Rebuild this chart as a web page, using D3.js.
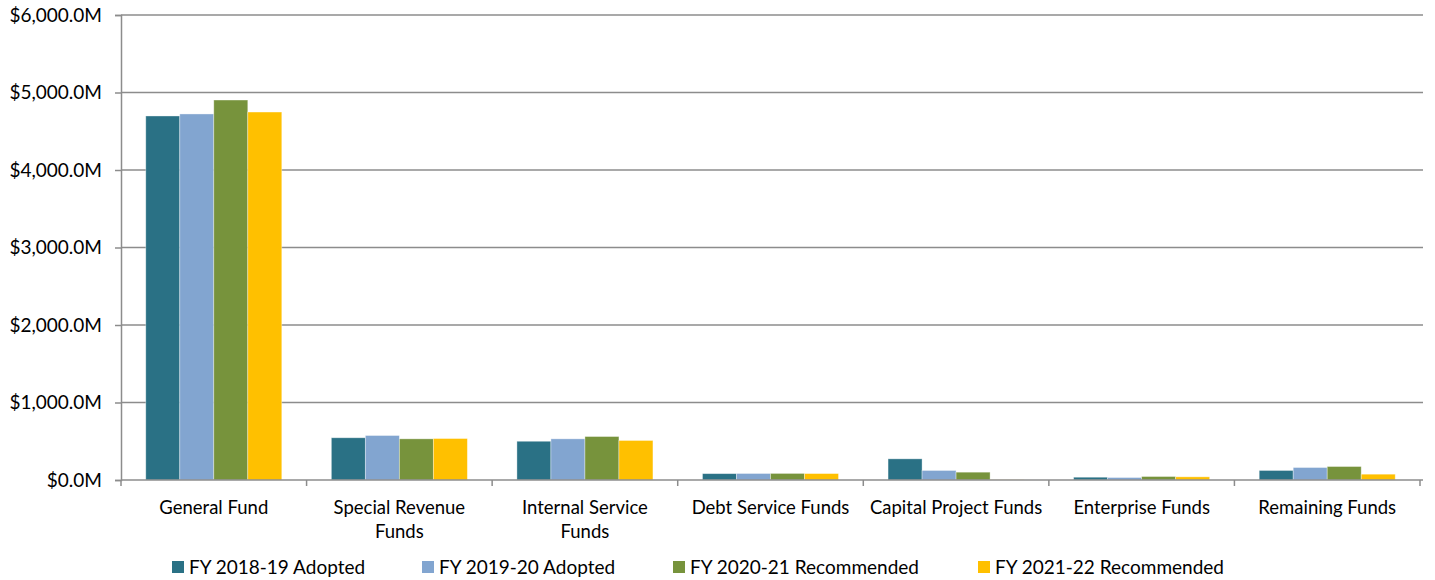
<!DOCTYPE html>
<html>
<head>
<meta charset="utf-8">
<script src="https://cdn.jsdelivr.net/npm/d3@7/dist/d3.min.js"></script>
<style>
  html, body { margin: 0; padding: 0; background: #fff; }
  svg text { font-family: Lato, "Open Sans", "Liberation Sans", sans-serif; fill: #000; }
</style>
</head>
<body>
<svg id="chart" width="1435" height="580"></svg>
<script>
// Fund categories (label lines) and budget amounts in $ millions
const categories = [
  ["General Fund"],
  ["Special Revenue", "Funds"],
  ["Internal Service", "Funds"],
  ["Debt Service Funds"],
  ["Capital Project Funds"],
  ["Enterprise Funds"],
  ["Remaining Funds"]
];
const seriesNames = [
  "FY 2018-19 Adopted",
  "FY 2019-20 Adopted",
  "FY 2020-21 Recommended",
  "FY 2021-22 Recommended"
];
const fy1819 = [4697, 545, 500, 82, 273, 36, 123];
const fy1920 = [4723, 574, 531, 84, 123, 32, 161];
const fy2021 = [4903, 531, 561, 85, 101, 45, 174];
const fy2122 = [4748, 535, 510, 83, 2, 41, 75];
const yTicks = [0, 1000, 2000, 3000, 4000, 5000, 6000];
const colors = ["#2A7185", "#82A5D0", "#77933C", "#FFC000"];

const series = [fy1819, fy1920, fy2021, fy2122];

const svg = d3.select("#chart");
const plotLeft = 121, plotRight = 1420, plotTop = 15, plotBottom = 480;

const x0 = d3.scaleBand()
  .domain(d3.range(categories.length))
  .range([plotLeft, plotRight])
  .paddingInner(0.267)
  .paddingOuter(0.1335);
const x1 = d3.scaleBand()
  .domain(d3.range(series.length))
  .range([0, x0.bandwidth()]);
const y = d3.scaleLinear().domain([0, 6000]).range([plotBottom, plotTop]);

const fmt = v => "$" + d3.format(",.1f")(v) + "M";

// Horizontal gridlines
svg.append("g")
  .selectAll("line")
  .data(yTicks.filter(t => t > 0))
  .join("line")
  .attr("x1", plotLeft).attr("x2", plotRight + 3)
  .attr("y1", d => y(d)).attr("y2", d => y(d))
  .attr("stroke", "#8c8c8c").attr("stroke-width", 1.5);

// Bars
const groups = svg.append("g")
  .selectAll("g")
  .data(categories.map((c, i) => i))
  .join("g")
  .attr("transform", i => `translate(${x0(i)},0)`);

groups.selectAll("rect")
  .data(i => series.map((s, k) => ({ k, v: s[i] })))
  .join("rect")
  .attr("x", d => x1(d.k))
  .attr("width", x1.bandwidth())
  .attr("y", d => y(d.v))
  .attr("height", d => y(0) - y(d.v))
  .attr("fill", d => colors[d.k])
  .attr("stroke", "rgba(255,255,255,0.45)")
  .attr("stroke-width", 0.8);

// Y axis
const yAxis = d3.axisLeft(y)
  .tickValues(yTicks)
  .tickFormat(fmt)
  .tickSize(6)
  .tickPadding(6);
const gy = svg.append("g")
  .attr("transform", `translate(${plotLeft},0)`)
  .call(yAxis);
gy.select(".domain").attr("stroke", "#8c8c8c").attr("stroke-width", 1.5);
gy.selectAll(".tick line").attr("stroke", "#8c8c8c").attr("stroke-width", 1.5);
gy.selectAll(".tick text")
  .style("font-size", "19px")
  .attr("x", -19);

// X axis baseline and category separators
svg.append("line")
  .attr("x1", plotLeft).attr("x2", plotRight + 3)
  .attr("y1", plotBottom).attr("y2", plotBottom)
  .attr("stroke", "#8c8c8c").attr("stroke-width", 1.5);
const step = x0.step();
svg.append("g")
  .selectAll("line")
  .data(d3.range(categories.length + 1))
  .join("line")
  .attr("x1", i => plotLeft + i * step).attr("x2", i => plotLeft + i * step)
  .attr("y1", plotBottom).attr("y2", plotBottom + 6)
  .attr("stroke", "#8c8c8c").attr("stroke-width", 1.5);

// Category labels
const labels = svg.append("g")
  .selectAll("text")
  .data(categories)
  .join("text")
  .attr("text-anchor", "middle")
  .style("font-size", "18.5px")
  .attr("transform", (c, i) => `translate(${x0(i) + x0.bandwidth() / 2},514)`);
labels.selectAll("tspan")
  .data(c => c)
  .join("tspan")
  .attr("x", 0)
  .attr("dy", (d, j) => j === 0 ? 0 : 24)
  .text(d => d);

// Legend
const legendX = [172, 422, 673, 978];
const legend = svg.append("g")
  .selectAll("g")
  .data(seriesNames)
  .join("g")
  .attr("transform", (d, i) => `translate(${legendX[i]},561)`);
legend.append("rect")
  .attr("width", 12).attr("height", 12)
  .attr("fill", (d, i) => colors[i]);
legend.append("text")
  .attr("x", 17).attr("y", 12.5)
  .style("font-size", "19px")
  .text(d => d);
</script>
</body>
</html>
